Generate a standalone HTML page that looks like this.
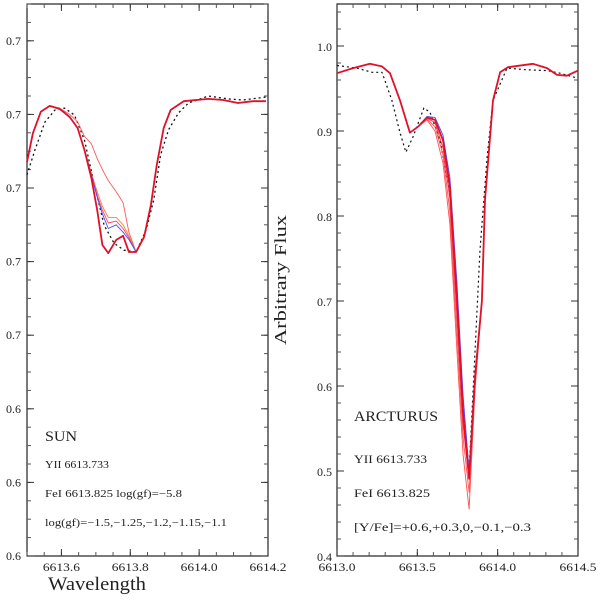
<!DOCTYPE html>
<html><head><meta charset="utf-8"><style>
body{margin:0;background:#fff}
svg text{font-family:"Liberation Serif",serif;fill:#222}
</style></head><body>
<svg id="c" width="600" height="598" xmlns="http://www.w3.org/2000/svg"></svg>
<script>
// ---- SUN panel data ----
const sunW = [6613.500,6613.517,6613.540,6613.566,6613.595,6613.624,6613.647,6613.667,6613.687,6613.704,6613.719,6613.736,6613.759,6613.779,6613.796,6613.817,6613.840,6613.860,6613.877,6613.897,6613.917,6613.955,6614.027,6614.070,6614.113,6614.156,6614.194];
const sunThick = [0.7071,0.7149,0.7207,0.7223,0.7215,0.7193,0.7163,0.7103,0.7027,0.6940,0.6845,0.6823,0.6859,0.6870,0.6826,0.6826,0.6867,0.6954,0.7063,0.7163,0.7212,0.7236,0.7242,0.7239,0.7231,0.7236,0.7236];
const sunWeak  = [0.7071,0.7149,0.7207,0.7223,0.7217,0.7200,0.7180,0.7140,0.7120,0.7080,0.7050,0.7020,0.6990,0.6960,0.6880,0.6826,0.6867,0.6954,0.7063,0.7163,0.7212,0.7236,0.7242,0.7239,0.7231,0.7236,0.7236];
const sunOrange= [0.7071,0.7149,0.7207,0.7223,0.7215,0.7193,0.7163,0.7103,0.7040,0.6990,0.6950,0.6920,0.6920,0.6900,0.6870,0.6826,0.6867,0.6954,0.7063,0.7163,0.7212,0.7236,0.7242,0.7239,0.7231,0.7236,0.7236];
const sunBlue  = [0.7071,0.7149,0.7207,0.7223,0.7215,0.7193,0.7163,0.7103,0.7035,0.6975,0.6930,0.6890,0.6900,0.6880,0.6860,0.6826,0.6867,0.6954,0.7063,0.7163,0.7212,0.7236,0.7242,0.7239,0.7231,0.7236,0.7236];
const sunRed2  = [0.7071,0.7149,0.7207,0.7223,0.7215,0.7193,0.7163,0.7103,0.7038,0.6980,0.6940,0.6905,0.6910,0.6890,0.6865,0.6826,0.6867,0.6954,0.7063,0.7163,0.7212,0.7236,0.7242,0.7239,0.7231,0.7236,0.7236];
const sunObsW = [6613.500,6613.523,6613.552,6613.581,6613.609,6613.638,6613.667,6613.696,6613.724,6613.753,6613.782,6613.817,6613.846,6613.868,6613.888,6613.911,6613.940,6613.969,6614.027,6614.084,6614.127,6614.194];
const sunObs  = [0.7036,0.7103,0.7179,0.7212,0.7217,0.7198,0.7130,0.7008,0.6899,0.6850,0.6831,0.6826,0.6886,0.6967,0.7090,0.7158,0.7204,0.7231,0.7250,0.7242,0.7239,0.7247];
const sunYTicks = [0.60,0.62,0.64,0.66,0.68,0.70,0.72,0.74];
const sunXTicks = [6613.6,6613.8,6614.0,6614.2];
// ---- ARCTURUS panel data ----
const arcW = [6613.000,6613.100,6613.205,6613.280,6613.330,6613.392,6613.454,6613.504,6613.560,6613.610,6613.660,6613.703,6613.747,6613.784,6613.822,6613.859,6613.902,6613.921,6613.971,6614.015,6614.064,6614.220,6614.307,6614.369,6614.431,6614.500];
const arcThick = [0.968,0.974,0.979,0.976,0.968,0.936,0.898,0.905,0.916,0.913,0.889,0.834,0.701,0.570,0.491,0.610,0.700,0.819,0.936,0.969,0.975,0.979,0.974,0.966,0.965,0.971];
const arcBlue  = [0.968,0.974,0.979,0.976,0.968,0.936,0.898,0.905,0.917,0.916,0.895,0.845,0.720,0.590,0.500,0.615,0.700,0.819,0.936,0.969,0.975,0.979,0.974,0.966,0.965,0.971];
const arcThin1 = [0.968,0.974,0.979,0.976,0.968,0.936,0.898,0.905,0.915,0.910,0.880,0.820,0.680,0.555,0.490,0.605,0.700,0.819,0.936,0.969,0.975,0.979,0.974,0.966,0.965,0.971];
const arcThin2 = [0.968,0.974,0.979,0.976,0.968,0.936,0.898,0.905,0.914,0.905,0.872,0.805,0.660,0.540,0.475,0.600,0.700,0.819,0.936,0.969,0.975,0.979,0.974,0.966,0.965,0.971];
const arcThin3 = [0.968,0.974,0.979,0.976,0.968,0.936,0.898,0.905,0.913,0.900,0.862,0.790,0.640,0.520,0.455,0.595,0.700,0.819,0.936,0.969,0.975,0.979,0.974,0.966,0.965,0.971];
const arcObsW = [6613.000,6613.124,6613.218,6613.280,6613.342,6613.392,6613.429,6613.473,6613.541,6613.579,6613.641,6613.703,6613.747,6613.784,6613.822,6613.859,6613.890,6613.934,6613.971,6614.058,6614.182,6614.307,6614.388,6614.500];
const arcObs  = [0.977,0.974,0.969,0.969,0.936,0.898,0.875,0.893,0.927,0.922,0.889,0.827,0.701,0.580,0.500,0.640,0.760,0.869,0.936,0.974,0.972,0.971,0.968,0.962];
const arcYTicks = [0.4,0.5,0.6,0.7,0.8,0.9,1.0];
const arcXTicks = [6613.0,6613.5,6614.0,6614.5];

const svg=document.getElementById('c');
const NS='http://www.w3.org/2000/svg';
function mk(tag,attrs,parent){const e=document.createElementNS(NS,tag);for(const k in attrs)e.setAttribute(k,attrs[k]);(parent||svg).appendChild(e);return e;}

function panel(name,L,R,T,B,x0,x1,y0,y1,xMinor,yMinor){
  const g=mk('g',{});
  
  
  const sx=w=>L+(w-x0)/(x1-x0)*(R-L);
  const sy=v=>B-(v-y0)/(y1-y0)*(B-T);
  const fr=mk('rect',{x:L,y:T,width:R-L,height:B-T,fill:'none',stroke:'#222','stroke-width':1.2},g);
  
  
  for(let w=x0;w<=x1+1e-9;w+=xMinor){const X=sx(w);
    mk('line',{x1:X,x2:X,y1:B,y2:B-4,stroke:'#555'},g);mk('line',{x1:X,x2:X,y1:T,y2:T+4,stroke:'#555'},g);}
  for(let v=y0;v<=y1+1e-9;v+=yMinor){const Y=sy(v);
    mk('line',{x1:L,x2:L+4,y1:Y,y2:Y,stroke:'#555'},g);mk('line',{x1:R,x2:R-4,y1:Y,y2:Y,stroke:'#555'},g);}
  return {g,sx,sy};
}
function line(p,ws,vs,color,width,dash,name){
  const d=ws.map((w,i)=>(i?'L':'M')+p.sx(w).toFixed(1)+','+p.sy(vs[i]).toFixed(1)).join('');
  const a={d:d,fill:'none',stroke:color,'stroke-width':width,'stroke-linejoin':'round'};
  if(dash)a['stroke-dasharray']=dash;
  const e=mk('path',a,p.g);
  
  
}
function txt(str,x,y,size,name,parent,extra){
  const e=mk('text',Object.assign({x:x,y:y,'font-size':size},extra||{}),parent||svg);
  e.textContent=str;
  
  
  return e;
}
const fit=w=>({textLength:w,lengthAdjust:'spacingAndGlyphs'});

// SUN
const P1=panel('sun',27,268,4,556,6613.5,6614.2,0.60,0.75,0.05,0.005);
sunYTicks.forEach(v=>{const Y=P1.sy(v);mk('line',{x1:27,x2:34,y1:Y,y2:Y,stroke:'#333'},P1.g);mk('line',{x1:268,x2:261,y1:Y,y2:Y,stroke:'#333'},P1.g);
  txt(v.toFixed(1),21,Y+4,12,'sun-y-tick-label',P1.g,{'text-anchor':'end'});});
sunXTicks.forEach(w=>{const X=P1.sx(w);mk('line',{x1:X,x2:X,y1:556,y2:549,stroke:'#333'},P1.g);mk('line',{x1:X,x2:X,y1:4,y2:11,stroke:'#333'},P1.g);
  txt(w.toFixed(1),X,571,12,'sun-x-tick-label',P1.g,Object.assign({'text-anchor':'middle'},fit(37)));});
line(P1,sunObsW,sunObs,'#111',1.3,'2,3','sun-observed');
line(P1,sunW,sunWeak,'#ff5a5a',0.9,null,'sun-synth-weak');
line(P1,sunW,sunOrange,'#ff8040',0.9,null,'sun-synth-orange');
line(P1,sunW,sunRed2,'#ff4060',0.9,null,'sun-synth-red');
line(P1,sunW,sunBlue,'#4050ff',0.9,null,'sun-synth-blue');
line(P1,sunW,sunThick,'#e0102a',1.8,null,'sun-synth-thick');
txt('SUN',45,441,15,'sun-label',P1.g,fit(32));
txt('YII 6613.733',45,468,11,'sun-yii-line',P1.g,fit(64));
txt('FeI 6613.825 log(gf)=\u22125.8',45,497,11,'sun-fei-line',P1.g,fit(137));
txt('log(gf)=\u22121.5,\u22121.25,\u22121.2,\u22121.15,\u22121.1',45,526,11,'sun-loggf-values',P1.g,fit(182));
txt('Wavelength',48,590,19,'x-axis-title',null,fit(98));

// ARCTURUS
const P2=panel('arcturus',337,578,4,556,6613.0,6614.5,0.40,1.0494,0.1,0.02);
arcYTicks.forEach(v=>{const Y=P2.sy(v);mk('line',{x1:337,x2:344,y1:Y,y2:Y,stroke:'#333'},P2.g);mk('line',{x1:578,x2:571,y1:Y,y2:Y,stroke:'#333'},P2.g);
  txt(v.toFixed(1),332,Y+5,12,'arcturus-y-tick-label',P2.g,{'text-anchor':'end'});});
arcXTicks.forEach(w=>{const X=P2.sx(w);mk('line',{x1:X,x2:X,y1:556,y2:549,stroke:'#333'},P2.g);mk('line',{x1:X,x2:X,y1:4,y2:11,stroke:'#333'},P2.g);
  txt(w.toFixed(1),X,571,12,'arcturus-x-tick-label',P2.g,Object.assign({'text-anchor':'middle'},fit(37)));});
line(P2,arcObsW,arcObs,'#111',1.2,'2,3','arcturus-observed');
line(P2,arcW,arcThin3,'#ff5050',0.9,null,'arcturus-synth-m03');
line(P2,arcW,arcThin2,'#ff5050',0.9,null,'arcturus-synth-m01');
line(P2,arcW,arcThin1,'#ff3040',0.9,null,'arcturus-synth-0');
line(P2,arcW,arcBlue,'#4050ff',0.9,null,'arcturus-synth-blue');
line(P2,arcW,arcThick,'#e0102a',1.8,null,'arcturus-synth-thick');
txt('ARCTURUS',354,421,15,'arcturus-label',P2.g,fit(84));
txt('YII 6613.733',354,463,12,'arcturus-yii-line',P2.g,fit(73));
txt('FeI 6613.825',354,497,12,'arcturus-fei-line',P2.g,fit(76));
txt('[Y/Fe]=+0.6,+0.3,0,\u22120.1,\u22120.3',354,531,12,'arcturus-yfe-values',P2.g,fit(177));
txt('Arbitrary Flux',0,0,17,'y-axis-title',null,Object.assign({transform:'translate(286,280) rotate(-90)','text-anchor':'middle'},fit(130)));
</script>
</body></html>
